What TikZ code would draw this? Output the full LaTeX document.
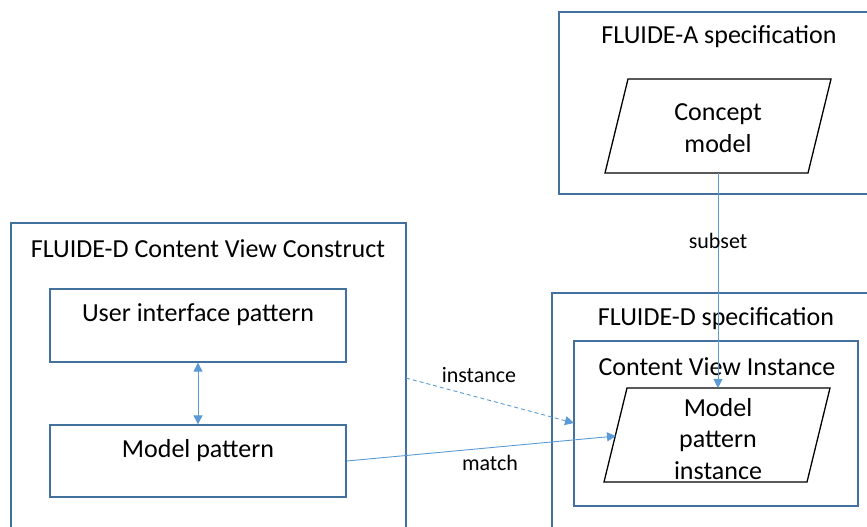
\documentclass[tikz,border=0pt]{standalone}
\usepackage{fontspec}
\setmainfont{Carlito}
\usetikzlibrary{arrows.meta}
\definecolor{framecol}{HTML}{41719C}
\definecolor{linkcol}{HTML}{5B9BD5}
\tikzset{
  frame/.style={draw=framecol, line width=1.3pt},
  title/.style={font=\fontsize{26}{30}\selectfont, inner sep=0pt, anchor=center},
  body/.style={font=\fontsize{26}{31.5}\selectfont, inner sep=0pt, align=center, anchor=center},
  para/.style={draw=black, line width=1.3pt, fill=white},
  link/.style={draw=linkcol, line width=0.9pt, -{Triangle[length=9pt,width=9pt]}},
  biarrow/.style={draw=linkcol, line width=0.9pt, {Triangle[length=9pt,width=9pt]}-{Triangle[length=9pt,width=9pt]}},
  lbl/.style={font=\fontsize{22}{26}\selectfont, inner sep=0pt, anchor=center}
}
\begin{document}
\begin{tikzpicture}[x=1pt, y=-1pt]
\useasboundingbox (0,0) rectangle (867,527);
% FLUIDE-A specification
\draw[frame] (870,12) -- (559,12) -- (559,194) -- (870,194);
\node[title] (atitle) at (719,37) {FLUIDE-A specification};
\coordinate (cm1) at (628,79);
\coordinate (cm2) at (831,79);
\coordinate (cm3) at (808,173);
\coordinate (cm4) at (605,173);
\draw[para] (cm1) -- (cm2) -- (cm3) -- (cm4) -- cycle;
\node[body] (concept) at (718,128) {Concept\\model};
\coordinate (cmbot) at (718,173);

% FLUIDE-D specification
\draw[frame] (870,293) -- (552,293) -- (552,530);
\node[title] (dtitle) at (716,319) {FLUIDE-D specification};
\node[frame, draw, minimum width=284pt, minimum height=165pt, inner sep=0pt] (cvi) at (716,423.5) {};
\node[title] (cvititle) at (717,367) {Content View Instance};
\coordinate (mp1) at (627,388);
\coordinate (mp2) at (830,388);
\coordinate (mp3) at (807,482);
\coordinate (mp4) at (604,482);
\draw[para] (mp1) -- (mp2) -- (mp3) -- (mp4) -- cycle;
\node[body] (mpi) at (718,439) {Model\\pattern\\instance};
\coordinate (mptop) at (718,388);
\coordinate (mpleft) at (616,436);

% FLUIDE-D Content View Construct
\draw[frame] (11,530) -- (11,223) -- (406,223) -- (406,530);
\node[title] (ctitle) at (208,249) {FLUIDE-D Content View Construct};
\node[frame, draw, minimum width=296pt, minimum height=73pt, inner sep=0pt] (uip) at (198,325.5) {};
\node[body] at (198,315) {User interface pattern};
\node[frame, draw, minimum width=296pt, minimum height=72pt, inner sep=0pt] (mp) at (198,461) {};
\node[body] at (198,451) {Model pattern};
\coordinate (cvcright) at (406,378);
\coordinate (cvileft) at (574,423);

% connectors
\draw[biarrow] (uip.south) -- (mp.north);
\draw[link] (cmbot) -- (mptop);
\node[lbl] (subset) at (718,241) {subset};
\draw[link, dashed, dash pattern=on 4pt off 3pt] (cvcright) -- (cvileft);
\node[lbl] (inst) at (479,375) {instance};
\draw[link] (mp.east) -- (mpleft);
\node[lbl] (match) at (490,463) {match};
\end{tikzpicture}
\end{document}
